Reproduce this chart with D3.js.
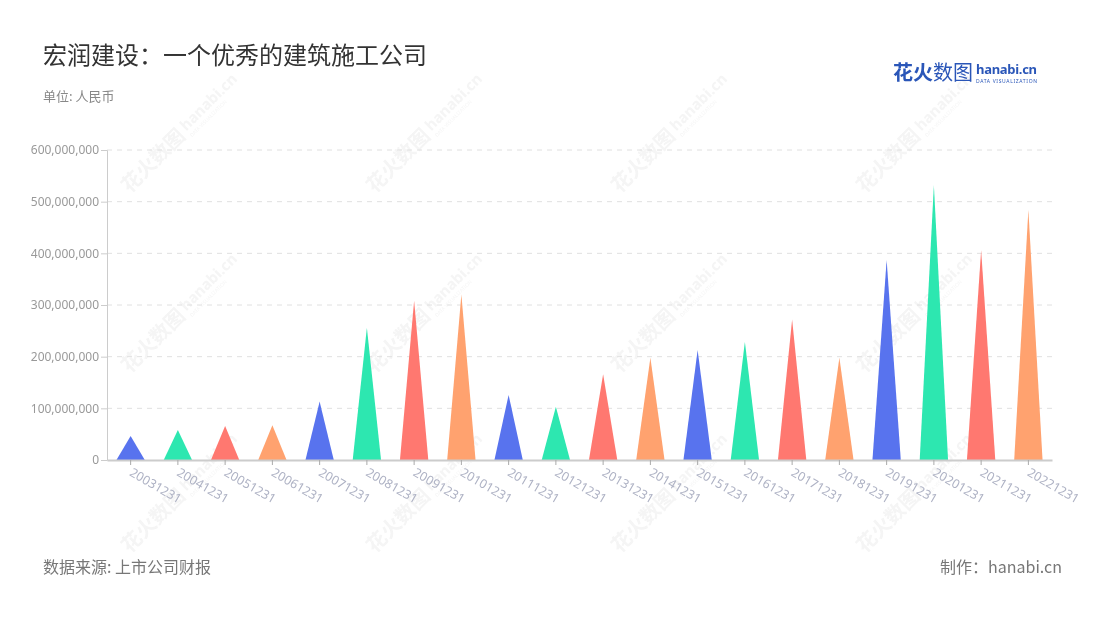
<!DOCTYPE html>
<html><head><meta charset="utf-8">
<script src="https://cdn.jsdelivr.net/npm/d3@7"></script>
<style>html,body{margin:0;padding:0;background:#fff;}svg{display:block;font-family:"Noto Sans","Noto Sans CJK SC",sans-serif;}</style>
</head><body><svg id="c" width="1100" height="620"></svg>
<script>
const categories = ["20031231","20041231","20051231","20061231","20071231","20081231","20091231","20101231","20111231","20121231","20131231","20141231","20151231","20161231","20171231","20181231","20191231","20201231","20211231","20221231"];
const values = [46500000,58000000,66000000,67500000,113000000,256000000,308000000,320500000,126000000,103000000,166000000,198000000,213000000,229000000,272000000,198000000,387000000,532000000,406000000,484000000];
const yTicks = [0,100000000,200000000,300000000,400000000,500000000,600000000];
const palette = ["#5873EE","#2DE7B0","#FF7870","#FFA26F"];

const svg = d3.select("#c");
const m = {l:107, r:1052, t:150, b:460};

// watermarks
const wm = svg.append("g").attr("fill","#d9d9d9").attr("opacity",0.28);
[140,320,500].forEach(cy=>[175,420,665,910].forEach(cx=>{
  const g = wm.append("g").attr("transform",`translate(${cx},${cy}) rotate(-45)`);
  g.append("text").attr("x",-70).attr("y",6).attr("font-size",20).attr("font-weight","bold").attr("font-family","Noto Sans CJK SC").text("花火数图");
  g.append("text").attr("x",14).attr("y",2).attr("font-size",15).attr("font-weight","bold").text("hanabi.cn");
  g.append("text").attr("x",14).attr("y",10).attr("font-size",5).text("DATA VISUALIZATION");
}));

const x = d3.scaleBand().domain(categories).range([m.l, m.r]);
const y = d3.scaleLinear().domain([0,600000000]).range([m.b, m.t]);

// grid
svg.append("g").selectAll("line").data(yTicks.slice(1)).join("line")
  .attr("x1",m.l).attr("x2",m.r).attr("y1",d=>y(d)).attr("y2",d=>y(d))
  .attr("stroke","#e0e0e0").attr("stroke-dasharray","5,5");

// y axis
const yAxis = svg.append("g").attr("transform",`translate(${m.l},0)`)
  .call(d3.axisLeft(y).tickValues(yTicks).tickFormat(d3.format(",")).tickSize(6).tickPadding(2));
yAxis.select(".domain").attr("stroke","#ccc").attr("stroke-width",1);
yAxis.selectAll(".tick line").attr("stroke","#ccc");
yAxis.selectAll(".tick text").attr("fill","#999").attr("font-size",12).attr("font-family","Noto Sans");

// triangles
const tw = x.bandwidth()*0.6;
svg.append("g").selectAll("path").data(categories).join("path")
  .attr("d",(c,i)=>{
    const cx = x(c)+x.bandwidth()/2, y0=y(0), y1=y(values[i]);
    return `M${cx-tw/2},${y0}L${cx},${y1}L${cx+tw/2},${y0}Z`;
  })
  .attr("fill",(c,i)=>palette[i%4]);

// x axis
const xAxis = svg.append("g").attr("transform",`translate(0,${m.b})`)
  .call(d3.axisBottom(x).tickSize(5).tickSizeOuter(0));
xAxis.select(".domain").attr("stroke","#ccc").attr("stroke-width",2);
xAxis.selectAll(".tick line").attr("stroke","#aaa");
xAxis.selectAll(".tick text").attr("fill","#aeb2c4").attr("font-size",12.5).attr("font-family","Noto Sans")
  .attr("text-anchor","start").attr("dy",0).attr("y",0)
  .attr("transform","translate(-2,15) rotate(30)");

// titles
svg.append("text").attr("x",43).attr("y",64).attr("font-size",24).attr("fill","#333").attr("font-family","Noto Sans CJK SC").text("宏润建设：一个优秀的建筑施工公司");
svg.append("text").attr("x",43).attr("y",101).attr("font-size",13).attr("fill","#888").attr("font-family","Noto Sans CJK SC").text("单位: 人民币");
svg.append("text").attr("x",43).attr("y",573).attr("font-size",16).attr("fill","#777").attr("font-family","Noto Sans CJK SC").text("数据来源: 上市公司财报");
svg.append("text").attr("x",1062).attr("y",573).attr("text-anchor","end").attr("font-size",16).attr("fill","#777").attr("font-family","Noto Sans CJK SC").text("制作：hanabi.cn");

// logo
const lg = svg.append("g");
lg.append("text").attr("x",893).attr("y",80).attr("font-size",20).attr("font-weight","bold").attr("fill","#2a56b8").attr("font-family","Noto Sans CJK SC").text("花火");
lg.append("text").attr("x",933).attr("y",80).attr("font-size",20).attr("fill","#2a56b8").attr("font-family","Noto Sans CJK SC").text("数图");
lg.append("text").attr("x",976).attr("y",74).attr("font-size",13).attr("font-weight","bold").attr("fill","#2a56b8").attr("font-family","Noto Sans").attr("textLength",61).text("hanabi.cn");
lg.append("text").attr("x",976).attr("y",83).attr("font-size",5).attr("fill","#2a56b8").attr("font-family","Noto Sans").attr("textLength",61).text("DATA VISUALIZATION");
</script></body></html>
